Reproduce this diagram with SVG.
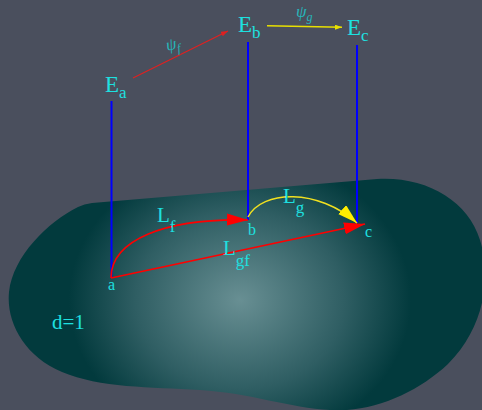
<svg xmlns="http://www.w3.org/2000/svg" width="482" height="410" viewBox="0 0 482 410">
<defs>
<radialGradient id="blobGrad" gradientUnits="userSpaceOnUse" cx="240" cy="300" r="190" gradientTransform="translate(240 300) scale(1 0.85) translate(-240 -300)">
<stop offset="0" stop-color="#688f93"/>
<stop offset="0.55" stop-color="#2f5e63"/>
<stop offset="0.9" stop-color="#023a3d"/>
<stop offset="1" stop-color="#023a3d"/>
</radialGradient>
<marker id="redHead" markerUnits="userSpaceOnUse" markerWidth="22" markerHeight="14" refX="21" refY="6" orient="auto">
<path d="M0,0 L21,6 L0,12 Z" fill="#ff0000"/>
</marker>
<marker id="yellowHead" markerUnits="userSpaceOnUse" markerWidth="22" markerHeight="14" refX="20" refY="6" orient="auto">
<path d="M0,0 L20,6 L0,12 Z" fill="#ffee00"/>
</marker>
<marker id="smallRed" markerUnits="userSpaceOnUse" markerWidth="8" markerHeight="6" refX="7" refY="2.5" orient="auto">
<path d="M0,0 L7,2.5 L0,5 Z" fill="#e02020"/>
</marker>
<marker id="smallYellow" markerUnits="userSpaceOnUse" markerWidth="8" markerHeight="6" refX="7" refY="2.5" orient="auto">
<path d="M0,0 L7,2.5 L0,5 Z" fill="#e8e000"/>
</marker>
</defs>
<style>
.t{font-family:"Liberation Serif","Times New Roman",serif;fill:#1ee0e0}
.big{font-size:23px}
.mid{font-size:21px}
.sub{font-size:17px}
.sm{font-size:16px}
.psi{font-family:"Liberation Serif","Times New Roman",serif;fill:#27b5ba;font-style:italic;font-size:17px}
.psisub{font-size:12px}
.blue{stroke:#0000ff;stroke-width:2;fill:none}
.red{stroke:#ff0000;stroke-width:1.6;fill:none}
.yel{stroke:#f0e020;stroke-width:1.5;fill:none}
</style>
<rect x="0" y="0" width="482" height="410" fill="#4a4f5d"/>
<g id="surface">
<path d="M92,203 L377,179 C425,176 468,200 480,240 C492,278 484,328 448,364 C417,393 372,413 330,410 C290,408 250,393 200,390 C150,387 100,388 62,372 C24,356 6,322 9,292 C13,256 48,222 78,207 Q84,204 92,203 Z" fill="url(#blobGrad)"/>
<text class="t mid" x="52" y="329">d=1</text>
</g>
<g id="connectors">
<line class="blue" x1="111.5" y1="101" x2="111.5" y2="278"/>
<line class="blue" x1="248" y1="42" x2="248" y2="220"/>
<line class="blue" x1="357" y1="45" x2="357" y2="223"/>
<path class="red" d="M111,278 C111,240 165,218 248,220" marker-end="url(#redHead)"/>
<path class="red" d="M111,278 L365,224" marker-end="url(#redHead)"/>
<path class="yel" d="M248,217 C262,190 318,188 357,223" marker-end="url(#yellowHead)"/>
<line x1="133" y1="78" x2="228" y2="31" stroke="#e02020" stroke-width="1.2" marker-end="url(#smallRed)"/>
<line x1="267" y1="25.7" x2="342" y2="27.3" stroke="#e8e000" stroke-width="1.5" marker-end="url(#smallYellow)"/>
</g>
<g id="Ea"><text class="t big" x="105" y="92">E<tspan class="sub" dy="6">a</tspan></text></g>
<g id="Eb"><text class="t big" x="238" y="32">E<tspan class="sub" dy="6">b</tspan></text></g>
<g id="Ec"><text class="t big" x="347" y="35">E<tspan class="sub" dy="6">c</tspan></text></g>
<g id="psi-f"><text class="psi" x="166" y="50" transform="rotate(-12 170 46)">ψ<tspan class="psisub" dy="4">f</tspan></text></g>
<g id="psi-g"><text class="psi" x="296" y="17">ψ<tspan class="psisub" dy="4">g</tspan></text></g>
<g id="a"><text class="t sm" x="108" y="290">a</text></g>
<g id="b"><text class="t sm" x="248" y="235">b</text></g>
<g id="c"><text class="t sm" x="365" y="237">c</text></g>
<g id="Lf"><text class="t mid" x="157" y="222">L<tspan class="sub" dy="10">f</tspan></text></g>
<g id="Lg"><text class="t mid" x="283" y="203">L<tspan class="sub" dy="10">g</tspan></text></g>
<g id="Lgf"><text class="t mid" x="223" y="255">L<tspan class="sub" dy="11">gf</tspan></text></g>
</svg>
